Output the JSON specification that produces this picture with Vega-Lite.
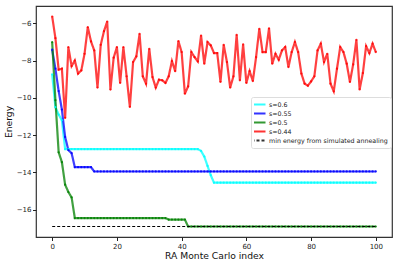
{
  "$schema": "https://vega.github.io/schema/vega-lite/v6.json",
  "width": 356,
  "height": 231,
  "autosize": {"type": "none"},
  "padding": {"left": 36, "top": 6, "right": 7, "bottom": 29},
  "background": "white",
  "config": {
    "font": "DejaVu Sans",
    "view": {"stroke": "#333", "strokeWidth": 1.2},
    "axis": {"grid": false, "domain": false, "tickColor": "#222", "tickSize": 3.5, "labelFontSize": 7, "labelColor": "#222", "labelPadding": 1.5, "titleFontSize": 9.2, "titleFontWeight": "normal", "titleColor": "#111"},
    "legend": {"orient": "none", "legendX": 215, "legendY": 91, "title": null,
               "symbolType": "M-2,0H2", "symbolSize": 49, "symbolStrokeWidth": 2,
               "labelFontSize": 6.3, "labelColor": "#222", "labelLimit": 300,
               "fillColor": "white", "strokeColor": "#ddd", "cornerRadius": 2, "padding": 3,
               "rowPadding": 0, "clipHeight": 9, "labelOffset": 6, "symbolOpacity": 0.8}
  },
  "datasets": {
    "runs": [
      {"i":0,"a":-8.74,"b":-7.42,"c":-7.02,"d":-5.64},
      {"i":1,"a":-10.5,"b":-8.44,"c":-10.13,"d":-6.8},
      {"i":2,"a":-10.9,"b":-9.64,"c":-12.92,"d":-8.49},
      {"i":3,"a":-11.2,"b":-10.63,"c":-13.45,"d":-8.44},
      {"i":4,"a":-12.75,"b":-12.1,"c":-14.66,"d":-11.08},
      {"i":5,"a":-12.75,"b":-12.8,"c":-15.05,"d":-7.28},
      {"i":6,"a":-12.75,"b":-12.97,"c":-15.34,"d":-8.3},
      {"i":7,"a":-12.75,"b":-13.72,"c":-16.45,"d":-8.0},
      {"i":8,"a":-12.75,"b":-13.72,"c":-16.45,"d":-8.7},
      {"i":9,"a":-12.75,"b":-13.72,"c":-16.45,"d":-8.53},
      {"i":10,"a":-12.75,"b":-13.72,"c":-16.45,"d":-7.64},
      {"i":11,"a":-12.75,"b":-13.72,"c":-16.45,"d":-6.21},
      {"i":12,"a":-12.75,"b":-13.72,"c":-16.45,"d":-6.98},
      {"i":13,"a":-12.75,"b":-13.95,"c":-16.45,"d":-7.46},
      {"i":14,"a":-12.75,"b":-13.95,"c":-16.45,"d":-9.45},
      {"i":15,"a":-12.75,"b":-13.95,"c":-16.45,"d":-7.16},
      {"i":16,"a":-12.75,"b":-13.95,"c":-16.45,"d":-6.43},
      {"i":17,"a":-12.75,"b":-13.95,"c":-16.45,"d":-5.91},
      {"i":18,"a":-12.75,"b":-13.95,"c":-16.45,"d":-9.56},
      {"i":19,"a":-12.75,"b":-13.95,"c":-16.45,"d":-7.85},
      {"i":20,"a":-12.75,"b":-13.95,"c":-16.45,"d":-7.28},
      {"i":21,"a":-12.75,"b":-13.95,"c":-16.45,"d":-9.2},
      {"i":22,"a":-12.75,"b":-13.95,"c":-16.45,"d":-7.28},
      {"i":23,"a":-12.75,"b":-13.95,"c":-16.45,"d":-8.85},
      {"i":24,"a":-12.75,"b":-13.95,"c":-16.45,"d":-10.49},
      {"i":25,"a":-12.75,"b":-13.95,"c":-16.45,"d":-8.08},
      {"i":26,"a":-12.75,"b":-13.95,"c":-16.45,"d":-7.78},
      {"i":27,"a":-12.75,"b":-13.95,"c":-16.45,"d":-6.57},
      {"i":28,"a":-12.75,"b":-13.95,"c":-16.45,"d":-8.85},
      {"i":29,"a":-12.75,"b":-13.95,"c":-16.45,"d":-9.24},
      {"i":30,"a":-12.75,"b":-13.95,"c":-16.45,"d":-7.37},
      {"i":31,"a":-12.75,"b":-13.95,"c":-16.45,"d":-8.89},
      {"i":32,"a":-12.75,"b":-13.95,"c":-16.45,"d":-9.45},
      {"i":33,"a":-12.75,"b":-13.95,"c":-16.45,"d":-9.03},
      {"i":34,"a":-12.75,"b":-13.95,"c":-16.45,"d":-9.06},
      {"i":35,"a":-12.75,"b":-13.95,"c":-16.45,"d":-9.2},
      {"i":36,"a":-12.75,"b":-13.95,"c":-16.53,"d":-8.85},
      {"i":37,"a":-12.75,"b":-13.95,"c":-16.53,"d":-8.03},
      {"i":38,"a":-12.75,"b":-13.95,"c":-16.53,"d":-8.57},
      {"i":39,"a":-12.75,"b":-13.95,"c":-16.53,"d":-6.96},
      {"i":40,"a":-12.75,"b":-13.95,"c":-16.53,"d":-7.55},
      {"i":41,"a":-12.75,"b":-13.95,"c":-16.53,"d":-9.78},
      {"i":42,"a":-12.75,"b":-13.95,"c":-16.9,"d":-9.39},
      {"i":43,"a":-12.75,"b":-13.95,"c":-16.9,"d":-7.55},
      {"i":44,"a":-12.75,"b":-13.95,"c":-16.9,"d":-7.82},
      {"i":45,"a":-12.75,"b":-13.95,"c":-16.9,"d":-8.05},
      {"i":46,"a":-12.85,"b":-13.95,"c":-16.9,"d":-6.66},
      {"i":47,"a":-13.15,"b":-13.95,"c":-16.9,"d":-8.17},
      {"i":48,"a":-13.65,"b":-13.95,"c":-16.9,"d":-7.01},
      {"i":49,"a":-14.15,"b":-13.95,"c":-16.9,"d":-7.19},
      {"i":50,"a":-14.55,"b":-13.95,"c":-16.9,"d":-7.6},
      {"i":51,"a":-14.55,"b":-13.95,"c":-16.9,"d":-7.6},
      {"i":52,"a":-14.55,"b":-13.95,"c":-16.9,"d":-9.15},
      {"i":53,"a":-14.55,"b":-13.95,"c":-16.9,"d":-7.16},
      {"i":54,"a":-14.55,"b":-13.95,"c":-16.9,"d":-8.08},
      {"i":55,"a":-14.55,"b":-13.95,"c":-16.9,"d":-9.45},
      {"i":56,"a":-14.55,"b":-13.95,"c":-16.9,"d":-8.85},
      {"i":57,"a":-14.55,"b":-13.95,"c":-16.9,"d":-6.62},
      {"i":58,"a":-14.55,"b":-13.95,"c":-16.9,"d":-9.06},
      {"i":59,"a":-14.55,"b":-13.95,"c":-16.9,"d":-7.14},
      {"i":60,"a":-14.55,"b":-13.95,"c":-16.9,"d":-9.2},
      {"i":61,"a":-14.55,"b":-13.95,"c":-16.9,"d":-8.57},
      {"i":62,"a":-14.55,"b":-13.95,"c":-16.9,"d":-9.1},
      {"i":63,"a":-14.55,"b":-13.95,"c":-16.9,"d":-7.82},
      {"i":64,"a":-14.55,"b":-13.95,"c":-16.9,"d":-6.3},
      {"i":65,"a":-14.55,"b":-13.95,"c":-16.9,"d":-7.55},
      {"i":66,"a":-14.55,"b":-13.95,"c":-16.9,"d":-7.55},
      {"i":67,"a":-14.55,"b":-13.95,"c":-16.9,"d":-6.28},
      {"i":68,"a":-14.55,"b":-13.95,"c":-16.9,"d":-8.17},
      {"i":69,"a":-14.55,"b":-13.95,"c":-16.9,"d":-7.64},
      {"i":70,"a":-14.55,"b":-13.95,"c":-16.9,"d":-7.96},
      {"i":71,"a":-14.55,"b":-13.95,"c":-16.9,"d":-7.46},
      {"i":72,"a":-14.55,"b":-13.95,"c":-16.9,"d":-7.28},
      {"i":73,"a":-14.55,"b":-13.95,"c":-16.9,"d":-8.35},
      {"i":74,"a":-14.55,"b":-13.95,"c":-16.9,"d":-7.55},
      {"i":75,"a":-14.55,"b":-13.95,"c":-16.9,"d":-7.01},
      {"i":76,"a":-14.55,"b":-13.95,"c":-16.9,"d":-7.55},
      {"i":77,"a":-14.55,"b":-13.95,"c":-16.9,"d":-8.7},
      {"i":78,"a":-14.55,"b":-13.95,"c":-16.9,"d":-9.24},
      {"i":79,"a":-14.55,"b":-13.95,"c":-16.9,"d":-9.35},
      {"i":80,"a":-14.55,"b":-13.95,"c":-16.9,"d":-9.12},
      {"i":81,"a":-14.55,"b":-13.95,"c":-16.9,"d":-8.85},
      {"i":82,"a":-14.55,"b":-13.95,"c":-16.9,"d":-7.46},
      {"i":83,"a":-14.55,"b":-13.95,"c":-16.9,"d":-7.1},
      {"i":84,"a":-14.55,"b":-13.95,"c":-16.9,"d":-8.08},
      {"i":85,"a":-14.55,"b":-13.95,"c":-16.9,"d":-7.64},
      {"i":86,"a":-14.55,"b":-13.95,"c":-16.9,"d":-9.24},
      {"i":87,"a":-14.55,"b":-13.95,"c":-16.9,"d":-9.65},
      {"i":88,"a":-14.55,"b":-13.95,"c":-16.9,"d":-8.44},
      {"i":89,"a":-14.55,"b":-13.95,"c":-16.9,"d":-7.28},
      {"i":90,"a":-14.55,"b":-13.95,"c":-16.9,"d":-7.55},
      {"i":91,"a":-14.55,"b":-13.95,"c":-16.9,"d":-8.17},
      {"i":92,"a":-14.55,"b":-13.95,"c":-16.9,"d":-9.15},
      {"i":93,"a":-14.55,"b":-13.95,"c":-16.9,"d":-8.21},
      {"i":94,"a":-14.55,"b":-13.95,"c":-16.9,"d":-6.89},
      {"i":95,"a":-14.55,"b":-13.95,"c":-16.9,"d":-9.55},
      {"i":96,"a":-14.55,"b":-13.95,"c":-16.9,"d":-8.67},
      {"i":97,"a":-14.55,"b":-13.95,"c":-16.9,"d":-7.23},
      {"i":98,"a":-14.55,"b":-13.95,"c":-16.9,"d":-7.6},
      {"i":99,"a":-14.55,"b":-13.95,"c":-16.9,"d":-7.1},
      {"i":100,"a":-14.55,"b":-13.95,"c":-16.9,"d":-7.55}
    ],
    "ref": [
      {"i": 0, "E": -16.9, "series": "min energy from simulated annealing"},
      {"i": 100, "E": -16.9, "series": "min energy from simulated annealing"}
    ]
  },
  "encoding": {
    "x": {"field": "i", "type": "quantitative", "scale": {"domain": [-5, 105], "nice": false, "zero": false},
          "axis": {"values": [0, 20, 40, 60, 80, 100], "title": "RA Monte Carlo index", "titlePadding": 2.5}},
    "y": {"field": "E", "type": "quantitative", "scale": {"domain": [-17.463, -5.077], "nice": false, "zero": false},
          "axis": {"values": [-6, -8, -10, -12, -14, -16], "title": "Energy", "titlePadding": 3}},
    "color": {"field": "series", "type": "nominal",
      "scale": {"domain": ["s=0.6", "s=0.55", "s=0.5", "s=0.44", "min energy from simulated annealing"],
                "range": ["#00ffff", "#0000ff", "#008000", "#ff0000", "#000000"]}}
  },
  "layer": [
    {
      "data": {"name": "runs"},
      "transform": [
        {"fold": ["a", "b", "c", "d"], "as": ["key", "E"]},
        {"lookup": "key", "from": {"data": {"values": [
          {"key": "a", "series": "s=0.6"},
          {"key": "b", "series": "s=0.55"},
          {"key": "c", "series": "s=0.5"},
          {"key": "d", "series": "s=0.44"}]}, "key": "key", "fields": ["series"]}}
      ],
      "layer": [
        {"mark": {"type": "line", "strokeWidth": 2.2, "opacity": 0.75},
         "encoding": {"strokeDash": {"field": "series", "type": "nominal",
            "scale": {"domain": ["s=0.6", "s=0.55", "s=0.5", "s=0.44", "min energy from simulated annealing"],
                      "range": [[1, 0], [1, 0], [1, 0], [1, 0], [3, 2]]}}}},
        {"mark": {"type": "point", "filled": true, "size": 5, "opacity": 0.85}, "encoding": {}}
      ]
    },
    {
      "data": {"name": "ref"},
      "mark": {"type": "line", "strokeWidth": 1.2},
      "encoding": {"strokeDash": {"field": "series", "type": "nominal"}}
    }
  ]
}
